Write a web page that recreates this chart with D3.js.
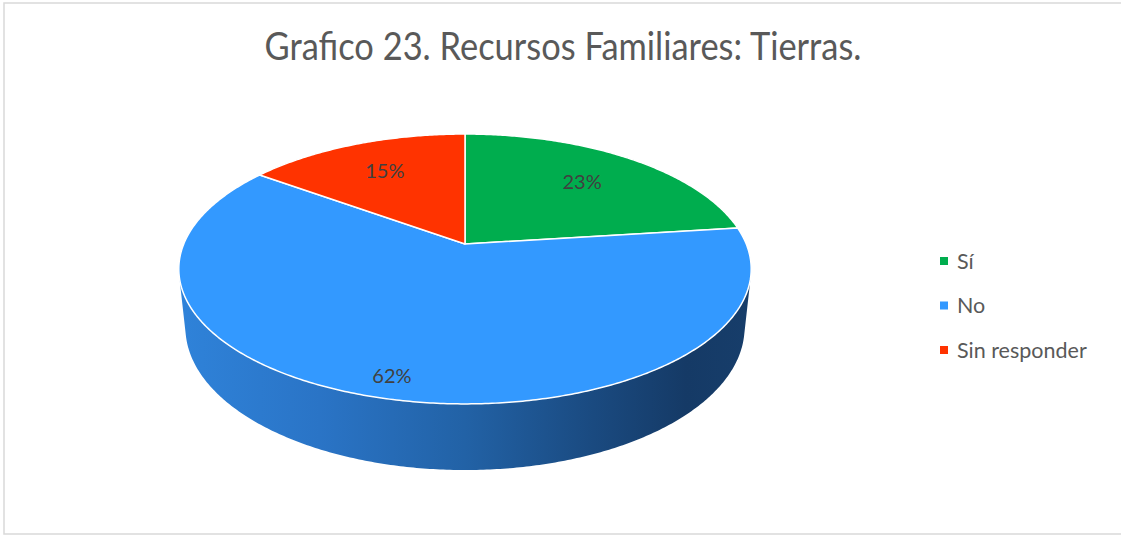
<!DOCTYPE html>
<html>
<head>
<meta charset="utf-8">
<script src="https://cdn.jsdelivr.net/npm/d3@7"></script>
<style>
  body { margin: 0; background: #fff; }
  svg { display: block; }
</style>
</head>
<body>
<svg id="chart" width="1121" height="536"></svg>
<script>
// data
var categories = ["Sí", "No", "Sin responder"];
var values = [23, 62, 15];
var labels = ["23%", "62%", "15%"];
var colors = ["#00ad4e", "#3399ff", "#ff3300"];

var svg = d3.select("#chart");

// frame
svg.append("rect")
    .attr("x", 4).attr("y", 3)
    .attr("width", 1130).attr("height", 531)
    .attr("fill", "#fff")
    .attr("stroke", "#d9d9d9")
    .attr("stroke-width", 1.5);

// title
var title = svg.append("text")
    .attr("x", 563).attr("y", 60)
    .attr("text-anchor", "middle")
    .attr("font-family", "Lato, 'Open Sans', sans-serif")
    .attr("font-size", 38)
    .attr("fill", "#595959")
    .text("Grafico 23. Recursos Familiares: Tierras.");
title.attr("textLength", 597).attr("lengthAdjust", "spacingAndGlyphs");

// 3d projection of the pie (perspective camera looking down on a disc)
var cx = 465, cy = 244;
var R = 0.2088, H = 0.0495, F = 1347;
var tilt = 27.6 * Math.PI / 180;
var sinT = Math.sin(tilt), cosT = Math.cos(tilt);

function proj(phi, rf, yw) {
    var x = R * rf * Math.sin(phi);
    var z = -R * rf * Math.cos(phi);
    var d = yw * sinT + z * cosT;
    var v = yw * cosT - z * sinT;
    var s = F / (1 - d);
    return [cx + x * s, cy - v * s];
}

var pie = d3.pie().sort(null).value(function(d) { return d; });
var arcs = pie(values);

var line = d3.line();

function arcPoints(a0, a1, rf, yw) {
    var n = Math.max(2, Math.ceil(Math.abs(a1 - a0) / 0.01));
    return d3.range(n + 1).map(function(i) {
        return proj(a0 + (a1 - a0) * i / n, rf, yw);
    });
}

// side gradient
var defs = svg.append("defs");
var leftX = proj(3 * Math.PI / 2, 1, 0)[0] - 10;
var rightX = proj(Math.PI / 2, 1, 0)[0] + 10;
var grad = defs.append("linearGradient")
    .attr("id", "sideBlue")
    .attr("gradientUnits", "userSpaceOnUse")
    .attr("x1", leftX).attr("x2", rightX)
    .attr("y1", 0).attr("y2", 0);
[[0, "#2f83da"], [0.25, "#2a74c6"], [0.5, "#2262a6"], [0.72, "#1a4a80"], [0.88, "#153a66"], [1, "#173e6b"]]
    .forEach(function(s) {
        grad.append("stop").attr("offset", s[0]).attr("stop-color", s[1]);
    });

// visible part of the cylinder wall
var visA = Math.acos(-R / cosT);
var visB = 2 * Math.PI - visA;

var sideG = svg.append("g");
arcs.forEach(function(a, i) {
    var a0 = Math.max(a.startAngle, visA);
    var a1 = Math.min(a.endAngle, visB);
    if (a1 <= a0) return;
    var pts = arcPoints(a0, a1, 1, 0).concat(arcPoints(a1, a0, 1, -H));
    sideG.append("path")
        .attr("d", line(pts) + "Z")
        .attr("fill", i === 1 ? "url(#sideBlue)" : d3.color(colors[i]).darker(1.2))
        .attr("stroke", "none");
});

// top faces
var topG = svg.append("g");
arcs.forEach(function(a, i) {
    var pts = [proj(0, 0, 0)].concat(arcPoints(a.startAngle, a.endAngle, 1, 0));
    topG.append("path")
        .attr("d", line(pts) + "Z")
        .attr("fill", colors[i])
        .attr("stroke", "#fff")
        .attr("stroke-width", 1.5)
        .attr("stroke-linejoin", "round");
});

// data labels
var labelFrac = [0.69, 0.88, 0.7];
arcs.forEach(function(a, i) {
    var mid = (a.startAngle + a.endAngle) / 2;
    var p = proj(mid, labelFrac[i], 0);
    svg.append("text")
        .attr("x", p[0]).attr("y", p[1])
        .attr("dy", "0.35em")
        .attr("text-anchor", "middle")
        .attr("font-family", "Lato, 'Open Sans', sans-serif")
        .attr("font-size", 20)
        .attr("fill", "#404040")
        .text(labels[i]);
});

// legend
var ly = d3.scalePoint().domain(categories).range([261, 350]);
var legend = svg.append("g");
categories.forEach(function(c, i) {
    legend.append("rect")
        .attr("x", 940).attr("y", ly(c) - 4)
        .attr("width", 8).attr("height", 8)
        .attr("fill", colors[i]);
    legend.append("text")
        .attr("x", 957).attr("y", ly(c))
        .attr("dy", "0.35em")
        .attr("font-family", "Lato, 'Open Sans', sans-serif")
        .attr("font-size", 21.5)
        .attr("fill", "#595959")
        .text(c);
});
</script>
</body>
</html>
